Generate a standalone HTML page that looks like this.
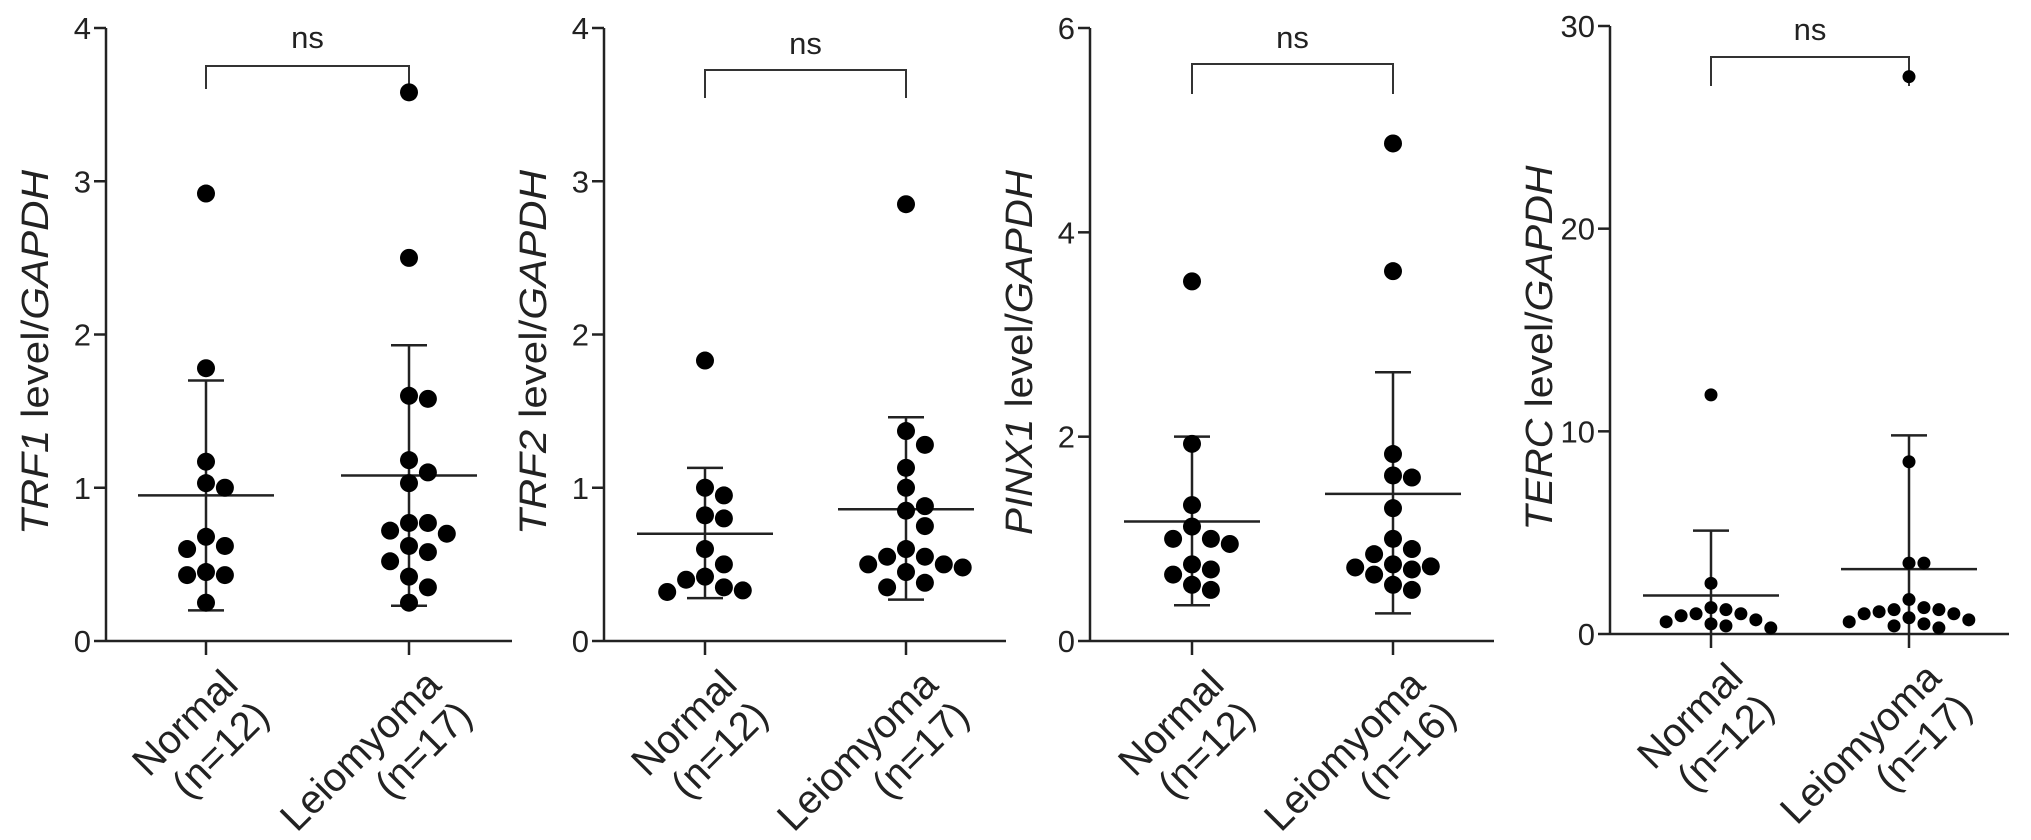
<!DOCTYPE html>
<html><head><meta charset="utf-8"><style>
html,body{margin:0;padding:0;background:#fff;}
svg{display:block;font-family:"Liberation Sans",Arial,sans-serif;}
</style></head><body>
<svg id="chart" width="2031" height="840" viewBox="0 0 2031 840" xmlns="http://www.w3.org/2000/svg"></svg>
<script>
const categories = ["Normal", "Leiomyoma"];
const p1Normal = [2.92,1.78,1.17,1.03,1.0,0.68,0.62,0.6,0.45,0.43,0.43,0.25];
const p1Leio = [3.58,2.5,1.6,1.58,1.18,1.1,1.03,0.77,0.77,0.72,0.7,0.62,0.58,0.52,0.42,0.35,0.25];
const p1Stats = [[0.95,0.20,1.70],[1.08,0.23,1.93]];
const p2Normal = [1.83,1.0,0.95,0.82,0.8,0.6,0.5,0.42,0.4,0.35,0.33,0.32];
const p2Leio = [2.85,1.37,1.28,1.13,1.0,0.88,0.85,0.75,0.6,0.55,0.55,0.5,0.5,0.48,0.45,0.38,0.35];
const p2Stats = [[0.70,0.28,1.13],[0.86,0.27,1.46]];
const p3Normal = [3.52,1.93,1.33,1.12,1.0,1.0,0.95,0.75,0.7,0.65,0.55,0.5];
const p3Leio = [4.87,3.62,1.83,1.62,1.6,1.3,1.0,0.9,0.85,0.75,0.73,0.72,0.7,0.65,0.55,0.5];
const p3Stats = [[1.17,0.35,2.0],[1.44,0.27,2.63]];
const p4Normal = [11.8,2.5,1.3,1.2,1.0,1.0,0.9,0.7,0.6,0.5,0.4,0.3];
const p4Leio = [27.5,8.5,3.5,3.5,1.7,1.3,1.2,1.2,1.1,1.0,1.0,0.8,0.7,0.6,0.5,0.4,0.3];
const p4Stats = [[1.9,0,5.1],[3.2,0,9.8]];
const p1Ticks = [0,1,2,3,4];
const p2Ticks = [0,1,2,3,4];
const p3Ticks = [0,2,4,6];
const p4Ticks = [0,10,20,30];
const nLabels = [["(n=12)","(n=17)"],["(n=12)","(n=17)"],["(n=12)","(n=16)"],["(n=12)","(n=17)"]];
const genes = ["TRF1","TRF2","PINX1","TERC"];

const NS="http://www.w3.org/2000/svg";
const svg=document.getElementById('chart');
function mk(tag,attrs,parent){const e=document.createElementNS(NS,tag);for(const k in attrs)e.setAttribute(k,attrs[k]);(parent||svg).appendChild(e);return e;}

const panels=[
 {ax:106,x0:206,x1:409,end:512,y0:641,yTop:28,max:4,ticks:p1Ticks,d:[p1Normal,p1Leio],s:p1Stats,r:9,sp:2.1,br:[66,89,48]},
 {ax:604,x0:705,x1:906,end:1006,y0:641,yTop:28,max:4,ticks:p2Ticks,d:[p2Normal,p2Leio],s:p2Stats,r:9,sp:2.1,br:[70,98,54]},
 {ax:1090,x0:1192,x1:1393,end:1494,y0:641,yTop:28,max:6,ticks:p3Ticks,d:[p3Normal,p3Leio],s:p3Stats,r:9,sp:2.1,br:[64,94,48]},
 {ax:1610,x0:1711,x1:1909,end:2009,y0:634,yTop:26,max:30,ticks:p4Ticks,d:[p4Normal,p4Leio],s:p4Stats,r:6.5,sp:2.3,br:[57,86,40]}
];

panels.forEach((p,pi)=>{
 const g=mk('g',{});
 
 
 const yS=v=>p.y0-(v/p.max)*(p.y0-p.yTop);
 const st={stroke:'#222','stroke-width':2.5,fill:'none'};
 const ya=mk('line',Object.assign({x1:p.ax,y1:p.yTop,x2:p.ax,y2:p.y0},st),g);
 
 
 const xa=mk('line',Object.assign({x1:p.ax,y1:p.y0,x2:p.end,y2:p.y0},st),g);
 
 
 p.ticks.forEach(t=>{
  const y=yS(t);
  mk('line',Object.assign({x1:p.ax-12,y1:y,x2:p.ax,y2:y},st),g);
  const tx=mk('text',{x:p.ax-15,y:y+11,'text-anchor':'end','font-size':31,fill:'#222'},g);
  tx.textContent=t;
  
  
 });
 const cy=(p.y0+p.yTop)/2+18;
 const tt=mk('text',{x:0,y:0,transform:`translate(${p.ax-58},${cy}) rotate(-90)`,'text-anchor':'middle','font-size':38,fill:'#222',textLength:365,lengthAdjust:'spacingAndGlyphs'},g);
 
 
 const ts=mk('tspan',{'font-style':'italic'},tt);ts.textContent=genes[pi];
 const ts2=mk('tspan',{},tt);ts2.textContent=' level/';
 const ts3=mk('tspan',{'font-style':'italic'},tt);ts3.textContent='GAPDH';
 const [bt,bb,nsy]=p.br;
 const br=mk('path',{d:`M${p.x0},${bb} V${bt} H${p.x1} V${bb}`,stroke:'#333','stroke-width':2,fill:'none'},g);
 
 
 const ns=mk('text',{x:(p.x0+p.x1)/2,y:nsy,'text-anchor':'middle','font-size':31,fill:'#222'},g);
 ns.textContent='ns';
 
 
 [p.x0,p.x1].forEach((cx,ci)=>{
  mk('line',Object.assign({x1:cx,y1:p.y0,x2:cx,y2:p.y0+14},st),g);
  const ax=cx+34,ay=p.y0+46;
  const l1=mk('text',{x:0,y:0,transform:`translate(${ax},${ay}) rotate(-45)`,'text-anchor':'end','font-size':40,fill:'#222'},g);
  l1.textContent=categories[ci];
  
  
  const l2=mk('text',{x:0,y:0,transform:`translate(${ax+31},${ay+31}) rotate(-45)`,'text-anchor':'end','font-size':40,fill:'#222'},g);
  l2.textContent=nLabels[pi][ci];
  
  
  const [m,lo,hi]=p.s[ci];
  const sd=mk('line',Object.assign({x1:cx,y1:yS(lo),x2:cx,y2:yS(hi)},st),g);
  
  
  mk('line',Object.assign({x1:cx-18,y1:yS(hi),x2:cx+18,y2:yS(hi)},st),g);
  if(lo>0) mk('line',Object.assign({x1:cx-18,y1:yS(lo),x2:cx+18,y2:yS(lo)},st),g);
  const ml=mk('line',Object.assign({x1:cx-68,y1:yS(m),x2:cx+68,y2:yS(m)},st),g);
  
  
  const placed=[];const dd=p.r*p.sp;
  [...p.d[ci]].sort((a,b)=>b-a).forEach(v=>{
   const y=yS(v);
   let off=0;
   for(let k=0;k<40;k++){
    const cand=k===0?0:(k%2?1:-1)*Math.ceil(k/2)*dd;
    if(placed.every(q=>Math.hypot(q[0]-cand,q[1]-y)>=dd-0.5)){off=cand;break;}
   }
   placed.push([off,y]);
   const c=mk('circle',{cx:cx+off,cy:y,r:p.r,fill:'#000'},g);
   
   
  });
 });
});
</script>
</body></html>
